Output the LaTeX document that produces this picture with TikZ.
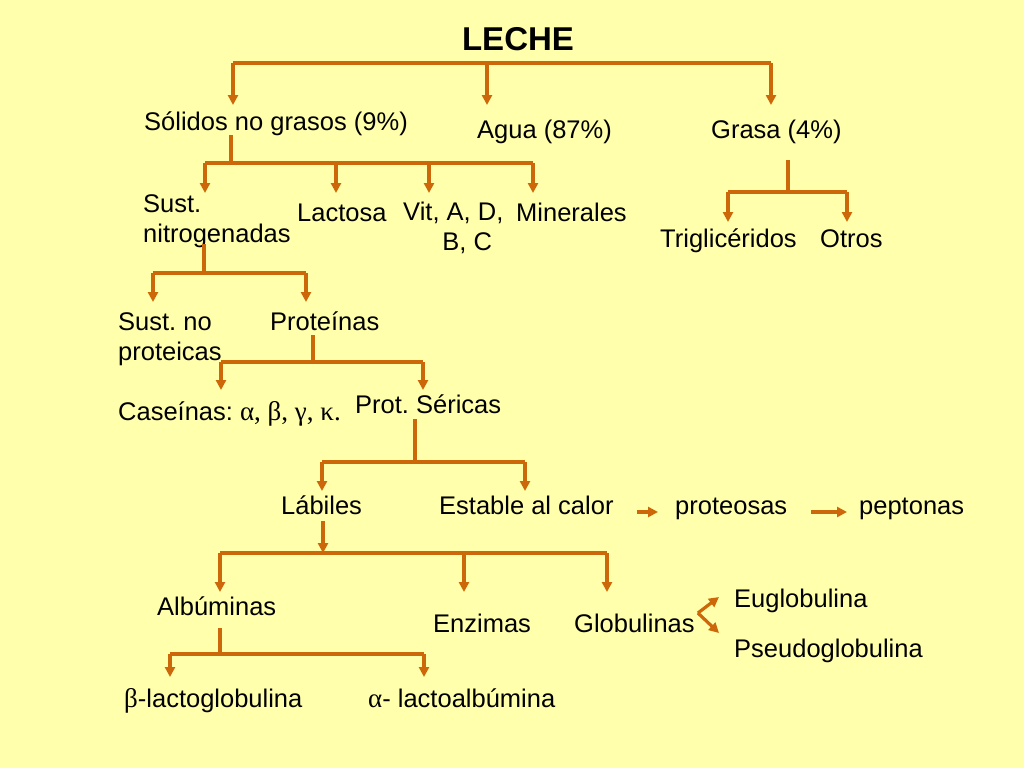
\documentclass[tikz,border=0pt]{standalone}
\usepackage{fontspec}
\setmainfont{Liberation Sans}
\newfontfamily\greekfont{Liberation Serif}
\usetikzlibrary{arrows.meta}
\definecolor{paper}{RGB}{255,255,172}
\definecolor{branch}{RGB}{204,104,10}
\newcommand{\gk}[1]{{\greekfont\fontsize{27}{30}\selectfont #1}}
\frenchspacing

\begin{document}
\begin{tikzpicture}[x=1pt,y=-1pt]
\fill[paper] (0,0) rectangle (1024,768);
\tikzset{lbl/.style={inner sep=0pt,anchor=base west,font=\fontsize{25.5}{29.5}\selectfont}}
\tikzset{link/.style={draw=branch,line width=3.2pt}}
\tikzset{arr/.style={link,-{Triangle[length=10pt,width=10pt]}}}

% labels
\node[lbl,anchor=base,font=\fontsize{33}{36}\selectfont\bfseries] (leche) at (518,51) {LECHE};
\node[lbl] (solidos) at (144,130) {Sólidos no grasos (9\%)};
\node[lbl] (agua) at (477,138) {Agua (87\%)};
\node[lbl] (grasa) at (711,138) {Grasa (4\%)};
\node[lbl,align=left] (nitro) at (143,242) {Sust.\\nitrogenadas};
\node[lbl] (lactosa) at (297,221) {Lactosa};
\node[lbl,align=center] (vit) at (403,250) {Vit, A, D,\\\hspace*{28pt}B, C};
\node[lbl] (minerales) at (516,221) {Minerales};
\node[lbl] (trigli) at (660,247) {Triglicéridos};
\node[lbl] (otros) at (820,247) {Otros};
\node[lbl,align=left] (noprot) at (118,360) {Sust. no\\proteicas};
\node[lbl] (proteinas) at (270,330) {Proteínas};
\node[lbl] (caseinas) at (118,420) {Caseínas: \gk{α, β, γ, κ.}};
\node[lbl] (sericas) at (355,413) {Prot. Séricas};
\node[lbl] (labiles) at (281,514) {Lábiles};
\node[lbl] (estable) at (439,514) {Estable al calor};
\node[lbl] (proteosas) at (675,514) {proteosas};
\node[lbl] (peptonas) at (859,514) {peptonas};
\node[lbl] (albuminas) at (157,615) {Albúminas};
\node[lbl] (enzimas) at (433,632) {Enzimas};
\node[lbl] (globulinas) at (574,632) {Globulinas};
\node[lbl] (eu) at (734,607) {Euglobulina};
\node[lbl] (pseudo) at (734,657) {Pseudoglobulina};
\node[lbl] (blacto) at (124,707) {\gk{β}-lactoglobulina};
\node[lbl] (alacto) at (368,707) {\gk{α}- lactoalbúmina};

% bar junctions
\coordinate (jsol) at (231,163);
\coordinate (jgra) at (788,192);
\coordinate (jnit) at (204,273);
\coordinate (jpro) at (313,362);
\coordinate (jser) at (415,462);
\coordinate (jlab) at (323,553);
\coordinate (jalb) at (220,654);

% leche
\draw[link] (233,63) -- (771,63);
\foreach \x in {233,487,771} \draw[arr] (\x,63) -- (\x,105);
% solidos no grasos
\draw[link] (solidos.south -| jsol) -- (jsol);
\draw[link] (205,163) -- (533,163);
\foreach \x in {205,336,429,533} \draw[arr] (\x,163) -- (\x,193);
% grasa
\draw[link] ([yshift=-17pt]grasa.south -| jgra) -- (jgra);
\draw[link] (728,192) -- (847,192);
\foreach \x in {728,847} \draw[arr] (\x,192) -- (\x,222);
% nitrogenadas
\draw[link] ([yshift=3pt]nitro.south -| jnit) -- (jnit);
\draw[link] (153,273) -- (306,273);
\foreach \x in {153,306} \draw[arr] (\x,273) -- (\x,302);
% proteinas
\draw[link] ([yshift=-5pt]proteinas.south -| jpro) -- (jpro);
\draw[link] (221,362) -- (423,362);
\foreach \x in {221,423} \draw[arr] (\x,362) -- (\x,390);
% sericas
\draw[link] ([yshift=-6pt]sericas.south -| jser) -- (jser);
\draw[link] (322,462) -- (525,462);
\foreach \x in {322,525} \draw[arr] (\x,462) -- (\x,491);
\draw[arr] ([xshift=23pt,yshift=2pt]estable.base east) -- ([xshift=-17pt,yshift=2pt]proteosas.base west);
\draw[arr] ([xshift=24pt,yshift=2pt]proteosas.base east) -- ([xshift=-12pt,yshift=2pt]peptonas.base west);
% labiles
\draw[arr] ([yshift=-7pt]labiles.south -| jlab) -- (jlab);
\draw[link] (220,553) -- (607,553);
\foreach \x in {220,464,607} \draw[arr] (\x,553) -- (\x,592);
\draw[arr] ([xshift=3pt,yshift=19pt]globulinas.base east) -- ([xshift=-15pt,yshift=10pt]eu.base west);
\draw[arr] ([xshift=3pt,yshift=19pt]globulinas.base east) -- ([xshift=-15pt,yshift=24pt]pseudo.base west);
% albuminas
\draw[link] ([yshift=-13pt]albuminas.south -| jalb) -- (jalb);
\draw[link] (170,654) -- (424,654);
\foreach \x in {170,424} \draw[arr] (\x,654) -- (\x,677);
\end{tikzpicture}
\end{document}
